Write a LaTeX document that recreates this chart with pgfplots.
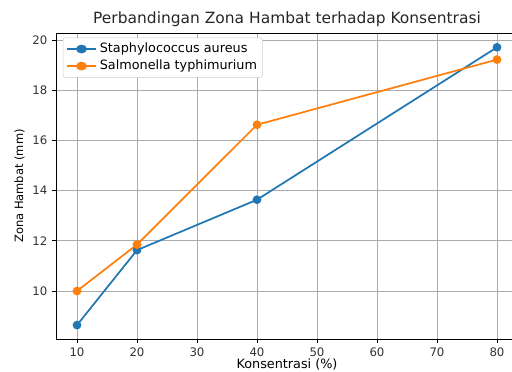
\documentclass[border=0pt]{standalone}
\usepackage{pgfplots}
\pgfplotsset{compat=1.18}
\usepackage{fontspec}
\setmainfont{DejaVu Sans}
\definecolor{c0}{HTML}{1F77B4}
\definecolor{c1}{HTML}{FF7F0E}
\begin{document}
\begin{tikzpicture}[x=0.75pt,y=0.75pt]
\begin{axis}[
  at={(0,0)}, anchor=south west,
  scale only axis, width=462*0.75pt, height=306*0.75pt,
  xmin=6.5, xmax=83.5, ymin=8.085, ymax=20.29,
  xtick={10,20,...,80}, ytick={10,12,...,20},
  grid=major, major grid style={color=black!33, line width=0.6pt},
  axis line style={line width=0.6pt},
  tick style={black, line width=0.6pt},
  tick align=outside, major tick length=3pt,
  xtick pos=bottom, ytick pos=left,
  ticklabel style={font=\fontsize{8.8}{10}\selectfont, text=black!80},
  /pgf/number format/assume math mode=true,
  title={Perbandingan Zona Hambat terhadap Konsentrasi},
  title style={font=\fontsize{11.6}{13}\selectfont, text=black!85, yshift=-4.5pt},
  xlabel={Konsentrasi (\%)},
  xlabel style={font=\fontsize{9.6}{11}\selectfont, yshift=5pt},
  ylabel={Zona Hambat (mm)},
  ylabel style={font=\fontsize{8.6}{10}\selectfont, yshift=-1pt},
  legend style={font=\fontsize{9.6}{11}\selectfont, draw=black!20, rounded corners=1.5pt, at={(0.015,0.985)}, anchor=north west, row sep=0pt, inner sep=2pt},
  legend cell align=left,
  legend image post style={xscale=1.3},
  every axis plot/.append style={line width=1.3pt, mark=*, mark size=2.6pt},
]
\addplot[color=c0, mark options={fill=c0, draw=c0}] coordinates {(10,8.64) (20,11.63) (40,13.64) (80,19.72)};
\addlegendentry{Staphylococcus aureus}
\addplot[color=c1, mark options={fill=c1, draw=c1}] coordinates {(10,10.0) (20,11.85) (40,16.63) (80,19.23)};
\addlegendentry{Salmonella typhimurium}
\end{axis}
\pgfresetboundingbox
\path[use as bounding box] (-56,-33) rectangle (456,339);
\end{tikzpicture}
\end{document}
